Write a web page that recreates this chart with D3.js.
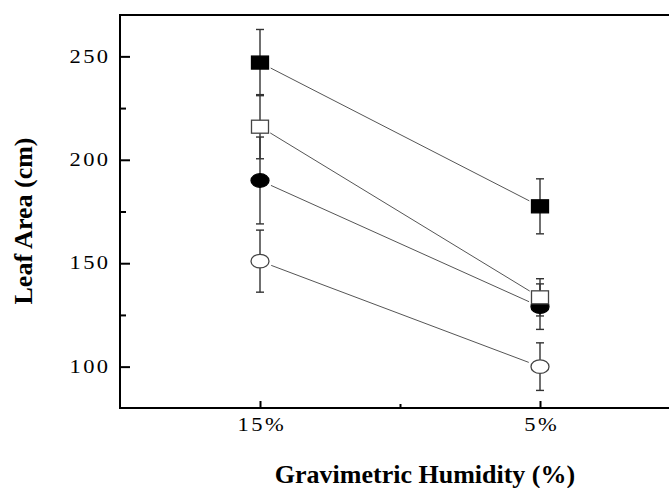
<!DOCTYPE html>
<html>
    <head>
		<meta charset="utf-8">
		<script src="https://cdn.jsdelivr.net/npm/d3@7"></script>
		<style>
			body { margin: 0; background: white; }
			text { font-family: "Liberation Serif", "Times New Roman", serif; fill: black; }
		</style>
        <script>
			// categories on the x axis
			const humidity = ["15%", "5%"];

			// mean leaf area per series, one value per humidity level
			const filledSquare = [247, 177.5];
			const openSquare   = [216, 133.5];
			const filledCircle = [190, 129];
			const openCircle   = [151, 100];

			// half length of the error bars
			const filledSquareErr = [16, 13.3];
			const openSquareErr   = [15.5, 9];
			const filledCircleErr = [21, 11];
			const openCircleErr   = [15, 11.5];

			const yTicks = [100, 150, 200, 250];
			const yMinor = [125, 175, 225];

            function makeSVG() {

				var svg = d3.select("#fig");

				const x0 = 120, x1 = 680, y0 = 408, y1 = 15;

				// X scale: categories sit at 1 and 2, frame runs 0.5 .. 2.5

				const xSc = d3.scaleLinear()
				              .domain([0.5, 2.5])
				              .range([x0, x1]);

				const ySc = d3.scaleLinear()
				              .domain([80, 270])
				              .range([y0, y1]);

				// series to draw, back to front
				const series = [
					{ vals: openCircle,   err: openCircleErr,   shape: "circle", fill: "white" },
					{ vals: filledCircle, err: filledCircleErr, shape: "circle", fill: "black" },
					{ vals: openSquare,   err: openSquareErr,   shape: "square", fill: "white" },
					{ vals: filledSquare, err: filledSquareErr, shape: "square", fill: "black" }
				];

				// connecting lines, trimmed so they stop short of the markers

				series.forEach(s => {
					var ax = xSc(1), ay = ySc(s.vals[0]);
					var bx = xSc(2), by = ySc(s.vals[1]);
					var len = Math.hypot(bx - ax, by - ay);
					var ux = (bx - ax) / len, uy = (by - ay) / len;
					var gap = 12;
					svg.append("line")
					   .attr("x1", ax + ux * gap).attr("y1", ay + uy * gap)
					   .attr("x2", bx - ux * gap).attr("y2", by - uy * gap)
					   .attr("stroke", "#555")
					   .attr("stroke-width", 1);
				});

				// error bars

				series.forEach(s => {
					s.vals.forEach((v, i) => {
						var cx = xSc(i + 1);
						var top = ySc(v + s.err[i]), bot = ySc(v - s.err[i]);
						var g = svg.append("g")
						           .attr("stroke", "#333")
						           .attr("stroke-width", 1.4);
						g.append("line").attr("x1", cx).attr("x2", cx).attr("y1", top).attr("y2", bot);
						g.append("line").attr("x1", cx - 4).attr("x2", cx + 4).attr("y1", top).attr("y2", top);
						g.append("line").attr("x1", cx - 4).attr("x2", cx + 4).attr("y1", bot).attr("y2", bot);
					});
				});

				// markers

				series.forEach(s => {
					s.vals.forEach((v, i) => {
						var cx = xSc(i + 1), cy = ySc(v);
						var m;
						if (s.shape == "square") {
							m = svg.append("rect")
							       .attr("x", cx - 8.5).attr("y", cy - 6.5)
							       .attr("width", 17).attr("height", 13);
						} else {
							m = svg.append("ellipse")
							       .attr("cx", cx).attr("cy", cy)
							       .attr("rx", 9).attr("ry", 6.8);
						}
						m.attr("fill", s.fill)
						 .attr("stroke", s.fill == "black" ? "black" : "#444")
						 .attr("stroke-width", 1.3);
					});
				});

				// Y axis, ticks pointing inwards

				var yg = svg.append("g")
				            .attr("transform", `translate(${x0},0)`);
				d3.axisLeft(ySc)
				  .tickValues(yTicks)
				  .tickSize(-10)
				  .tickPadding(7.5)(yg);

				var ymg = svg.append("g")
				             .attr("transform", `translate(${x0},0)`);
				d3.axisLeft(ySc)
				  .tickValues(yMinor)
				  .tickSize(-6)
				  .tickFormat("")(ymg);

				// X axis

				var xg = svg.append("g")
				            .attr("transform", `translate(0,${y0})`);
				d3.axisBottom(xSc)
				  .tickValues([1, 2])
				  .tickFormat((d, i) => humidity[i])
				  .tickSize(-7)
				  .tickPadding(10)(xg);
				xg.selectAll(".tick text").attr("dx", 1);

				var xmg = svg.append("g")
				             .attr("transform", `translate(0,${y0})`);
				d3.axisBottom(xSc)
				  .tickValues([1.5])
				  .tickSize(-4)
				  .tickFormat("")(xmg);

				svg.selectAll(".domain").remove();
				svg.selectAll(".tick line").attr("stroke", "black").attr("stroke-width", 2);
				// the original labels are a wide serif, so stretch them a little
				svg.selectAll(".tick text")
				   .attr("font-family", "Liberation Serif")
				   .attr("font-size", 18)
				   .attr("letter-spacing", 2)
				   .attr("transform", "scale(1.25,1)");

				// frame

				svg.append("rect")
				   .attr("x", x0).attr("y", y1)
				   .attr("width", x1 - x0).attr("height", y0 - y1)
				   .attr("fill", "none")
				   .attr("stroke", "black")
				   .attr("stroke-width", 2);

				// axis titles

				svg.append("text")
				   .attr("x", 425).attr("y", 483)
				   .attr("text-anchor", "middle")
				   .attr("font-size", 26)
				   .attr("font-weight", "bold")
				   .text("Gravimetric Humidity (%)");

				svg.append("text")
				   .attr("transform", "translate(32,221) rotate(-90)")
				   .attr("text-anchor", "middle")
				   .attr("font-size", 26)
				   .attr("font-weight", "bold")
				   .text("Leaf Area (cm)");
            }
        </script>
    </head>
    <body onload="makeSVG()">

        <svg id="fig" width="669" height="488"></svg>

    </body>
</html>
